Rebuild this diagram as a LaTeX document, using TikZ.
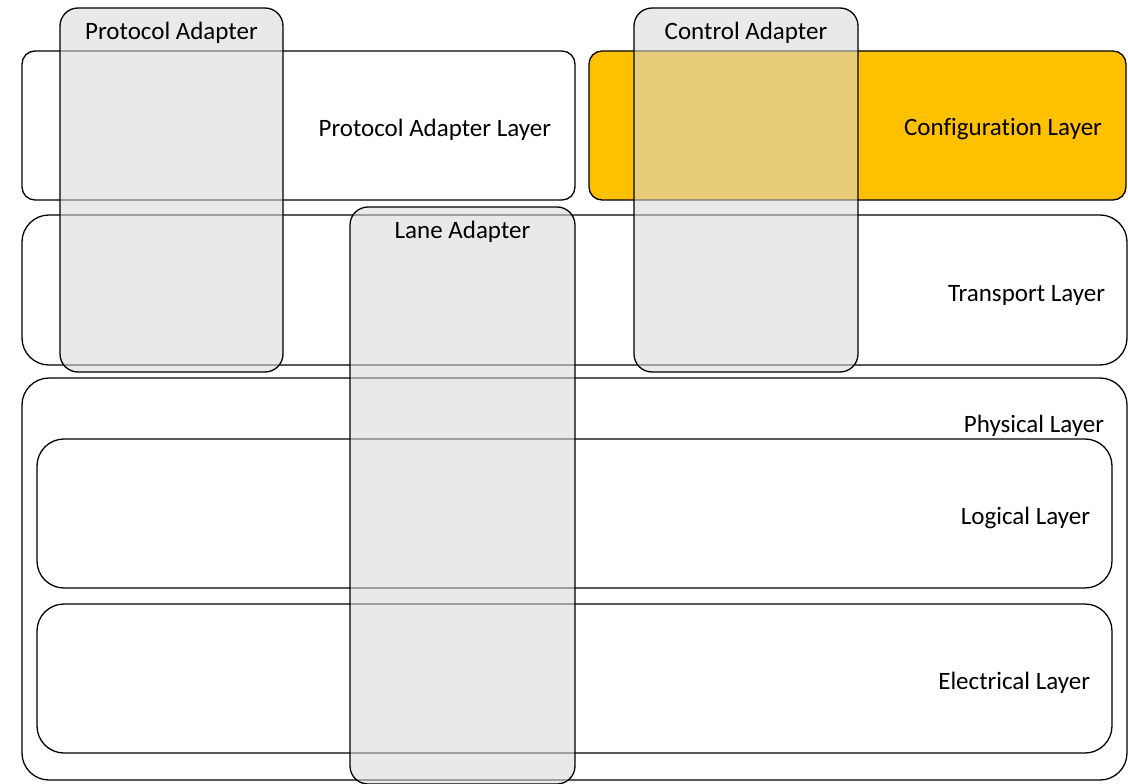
\documentclass[tikz,border=0pt]{standalone}
\usepackage{fontspec}
\setmainfont[Ligatures=NoCommon]{Carlito}
\begin{document}
\begin{tikzpicture}[x=1pt,y=-1pt,
  box/.style={draw=black,line width=1.3pt,inner sep=0pt,outer sep=0pt,anchor=north west},
  layer/.style={box,rounded corners=27pt},
  toplayer/.style={box,rounded corners=13pt},
  adapter/.style={box,rounded corners=18pt,fill=adgray,fill opacity=0.56},
  lbl/.style={inner sep=0pt,outer sep=0pt,font=\fontsize{25}{30}\selectfont,text=black},
]
\definecolor{adgray}{HTML}{D7D7D7}
\definecolor{cfgyellow}{HTML}{FFC000}
\useasboundingbox (0,0) rectangle (1128,784);

% layer boxes
\node[toplayer,minimum width=553pt,minimum height=149pt] (pal) at (22,51) {};
\node[toplayer,fill=cfgyellow,minimum width=537pt,minimum height=149pt] (cfg) at (589,51) {};
\node[layer,minimum width=1105pt,minimum height=150pt] (tr) at (22,215) {};
\node[layer,minimum width=1105pt,minimum height=402pt] (phy) at (22,378) {};
\node[layer,minimum width=1075pt,minimum height=149pt] (log) at (37,439) {};
\node[layer,minimum width=1075pt,minimum height=149pt] (ele) at (37,604) {};

% layer labels
\node[lbl,anchor=east] at ([xshift=-24pt,yshift=-4pt]pal.east) {Protocol Adapter Layer};
\node[lbl,anchor=east] at ([xshift=-24pt,yshift=-4pt]cfg.east) {Configuration Layer};
\node[lbl,anchor=east] at ([xshift=-22pt,yshift=-5pt]tr.east) {Transport Layer};
\node[lbl,anchor=base east] at (1104,432) {Physical Layer};
\node[lbl,anchor=east] at ([xshift=-22pt,yshift=-4pt]log.east) {Logical Layer};
\node[lbl,anchor=east] at ([xshift=-22pt,yshift=-4pt]ele.east) {Electrical Layer};

% adapters drawn over the layers
\node[adapter,minimum width=223pt,minimum height=364pt] (pa) at (60,8) {};
\node[adapter,minimum width=224pt,minimum height=364pt] (ca) at (634,8) {};
\node[adapter,minimum width=225pt,minimum height=577pt] (la) at (350,207) {};

% adapter labels
\node[lbl,anchor=base] at ([yshift=-32pt]pa.north) {Protocol Adapter};
\node[lbl,anchor=base] at ([yshift=-32pt]ca.north) {Control Adapter};
\node[lbl,anchor=base] at ([yshift=-31pt]la.north) {Lane Adapter};
\end{tikzpicture}
\end{document}
